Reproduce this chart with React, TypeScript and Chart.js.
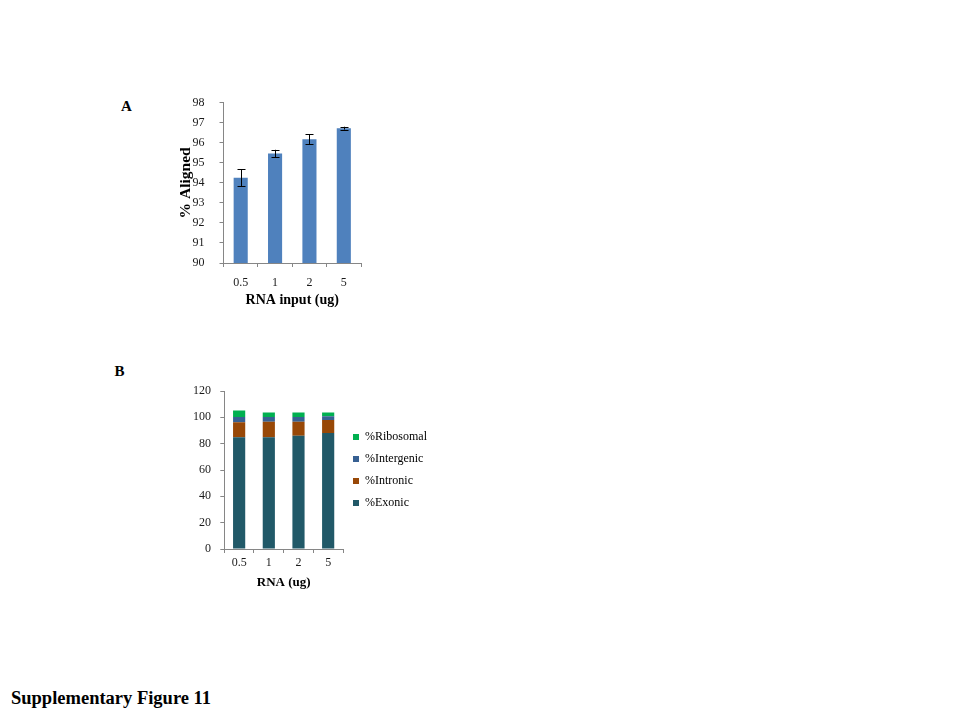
import { useEffect, useRef } from "react";
import { Chart, registerables } from "chart.js";

Chart.register(...registerables);

// panel A: alignment rate by RNA input
const inputLabels = ["0.5", "1", "2", "5"];
const alignedPct = [94.25, 95.47, 96.18, 96.73];
const alignedErr = [0.42, 0.18, 0.25, 0.07];

// panel B: read distribution (stacked)
const exonic = [84.8, 84.8, 86.0, 88.1];
const intronic = [11.4, 11.9, 10.7, 9.9];
const intergenic = [4.1, 3.6, 3.6, 2.8];
const ribosomal = [4.8, 3.3, 3.3, 2.8];

const SERIF = "'Liberation Serif', 'Times New Roman', serif";
const AXIS = "#868686";
const INK = "#1a1a1a";

const errorBars = {
  id: "errorBars",
  afterDatasetsDraw(chart: Chart) {
    const { ctx } = chart;
    const meta = chart.getDatasetMeta(0);
    const y = chart.scales.y;
    ctx.save();
    ctx.strokeStyle = "#000";
    ctx.lineWidth = 1;
    meta.data.forEach((bar: any, i: number) => {
      const top = y.getPixelForValue(alignedPct[i] + alignedErr[i]);
      const bottom = y.getPixelForValue(alignedPct[i] - alignedErr[i]);
      const x = Math.round(bar.x) + 0.5;
      ctx.beginPath();
      ctx.moveTo(x, top);
      ctx.lineTo(x, bottom);
      ctx.moveTo(x - 4, Math.round(top) + 0.5);
      ctx.lineTo(x + 4, Math.round(top) + 0.5);
      ctx.moveTo(x - 4, Math.round(bottom) + 0.5);
      ctx.lineTo(x + 4, Math.round(bottom) + 0.5);
      ctx.stroke();
    });
    ctx.restore();
  }
};

function axisStyle(extra: any) {
  return {
    border: { display: true, color: AXIS, width: 1 },
    grid: { display: true, drawOnChartArea: false, drawTicks: true, tickLength: 4, color: AXIS },
    ...extra
  };
}

// fixed axis width, and no extra room reserved above/below for the end labels
const fixWidth = (w: number) => (s: any) => {
  s.width = w;
  s.paddingTop = 0;
  s.paddingBottom = 0;
};

function AlignedChart() {
  const ref = useRef<HTMLCanvasElement | null>(null);

  useEffect(() => {
    const canvas = ref.current;
    if (!canvas) return;
    const chart = new Chart(canvas, {
      type: "bar",
      data: {
        labels: inputLabels,
        datasets: [
          {
            data: alignedPct,
            backgroundColor: "#4f81bd",
            categoryPercentage: 1,
            barPercentage: 0.41
          }
        ]
      },
      options: {
        animation: false,
        responsive: false,
        layout: { padding: { top: 12.7, right: 9, bottom: 0, left: 0 } },
        plugins: { legend: { display: false }, tooltip: { enabled: false } },
        scales: {
          x: axisStyle({
            afterFit: (s: any) => { s.height = 52; },
            ticks: { color: INK, font: { family: SERIF, size: 12 }, padding: 8.5, maxRotation: 0 },
            title: {
              display: true,
              text: "RNA input (ug)",
              color: "#000",
              font: { family: SERIF, size: 14, weight: "bold" },
              padding: { top: 0, bottom: 6.6 }
            }
          }),
          y: axisStyle({
            min: 90,
            max: 98,
            afterFit: fixWidth(53.5),
            ticks: { stepSize: 1, color: INK, font: { family: SERIF, size: 12 }, padding: 15 },
            title: {
              display: true,
              text: "% Aligned",
              color: "#000",
              font: { family: SERIF, size: 15.5, weight: "bold" },
              padding: { top: 6.5, bottom: 0 }
            }
          })
        }
      },
      plugins: [errorBars]
    });
    return () => chart.destroy();
  }, []);

  return <canvas ref={ref} width={200} height={225} style={{ position: "absolute", left: 170, top: 90 }} />;
}

function DistributionChart() {
  const ref = useRef<HTMLCanvasElement | null>(null);

  useEffect(() => {
    const canvas = ref.current;
    if (!canvas) return;
    const bar = { categoryPercentage: 1, barPercentage: 0.41 };
    const chart = new Chart(canvas, {
      type: "bar",
      data: {
        labels: inputLabels,
        datasets: [
          { label: "%Exonic", data: exonic, backgroundColor: "#215968", ...bar },
          { label: "%Intronic", data: intronic, backgroundColor: "#984807", ...bar },
          { label: "%Intergenic", data: intergenic, backgroundColor: "#376092", ...bar },
          { label: "%Ribosomal", data: ribosomal, backgroundColor: "#00b050", ...bar }
        ]
      },
      options: {
        animation: false,
        responsive: false,
        layout: { padding: { top: 11, right: 0, bottom: 0, left: 0 } },
        plugins: {
          tooltip: { enabled: false },
          legend: {
            position: "right",
            fullSize: false,
            reverse: true,
            maxWidth: 130,
            labels: {
              boxWidth: 6,
              boxHeight: 6,
              padding: 10,
              color: "#000",
              font: { family: SERIF, size: 12 }
            }
          }
        },
        scales: {
          x: axisStyle({
            stacked: true,
            afterFit: (s: any) => { s.height = 46; },
            ticks: { color: INK, font: { family: SERIF, size: 12 }, padding: 3, maxRotation: 0 },
            title: {
              display: true,
              text: "RNA (ug)",
              color: "#000",
              font: { family: SERIF, size: 13, weight: "bold" },
              padding: { top: 0, bottom: 4.2 }
            }
          }),
          y: axisStyle({
            stacked: true,
            min: 0,
            max: 120,
            afterFit: fixWidth(54.3),
            ticks: { stepSize: 20, color: INK, font: { family: SERIF, size: 12 }, padding: 9.3 }
          })
        }
      }
    });
    return () => chart.destroy();
  }, []);

  return <canvas ref={ref} width={267} height={215} style={{ position: "absolute", left: 170, top: 380 }} />;
}

const label = (size: number) => ({
  position: "absolute" as const,
  fontFamily: SERIF,
  fontWeight: "bold" as const,
  fontSize: size,
  lineHeight: 1,
  color: "#000",
  whiteSpace: "nowrap" as const
});

export default function App() {
  return (
    <div style={{ position: "absolute", left: 0, top: 0, width: 960, height: 720, background: "#fff" }}>
      <div style={{ ...label(15), left: 121, top: 99.4 }}>A</div>
      <AlignedChart />
      <div style={{ ...label(15), left: 114.5, top: 364 }}>B</div>
      <DistributionChart />
      <div style={{ ...label(18.5), left: 11, top: 689 }}>Supplementary Figure 11</div>
    </div>
  );
}
